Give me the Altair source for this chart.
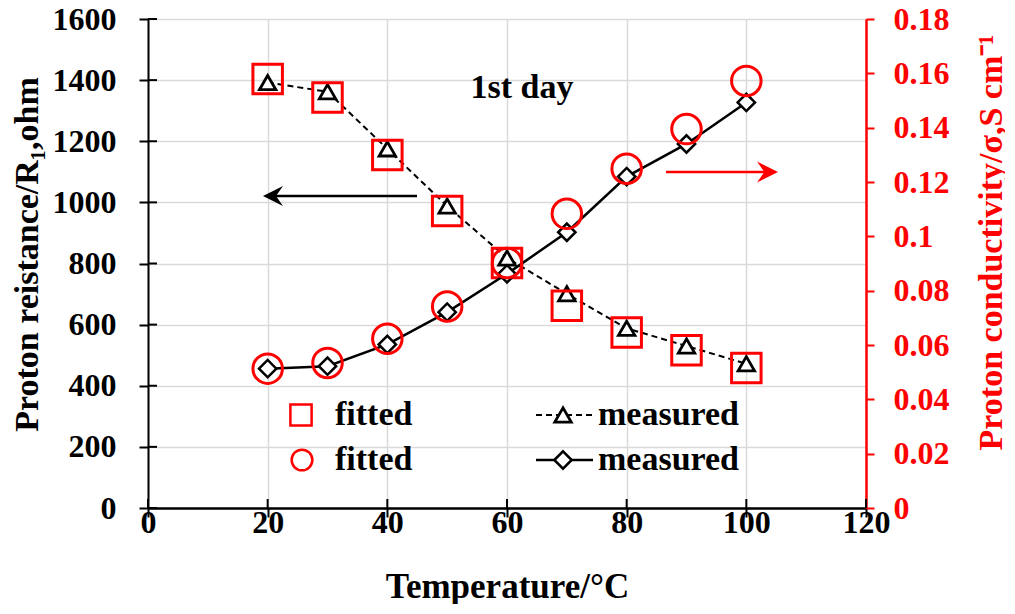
import altair as alt
import pandas as pd

# ---------------- data ----------------
temperature = [20, 30, 40, 50, 60, 70, 80, 90, 100]
resistance_measured = [1392, 1362, 1175, 988, 818, 701, 588, 530, 472]
resistance_fitted = [1404, 1343, 1155, 972, 802, 662, 574, 516, 458]
conductivity_measured = [0.0513, 0.0522, 0.0602, 0.0721, 0.0862, 0.1015, 0.1220, 0.1340, 0.1493]
conductivity_fitted = [0.0513, 0.0534, 0.0623, 0.0742, 0.0902, 0.1083, 0.1249, 0.1395, 0.1572]

x_ticks = [0, 20, 40, 60, 80, 100, 120]
left_ticks = [0, 200, 400, 600, 800, 1000, 1200, 1400, 1600]
right_ticks = [0, 0.02, 0.04, 0.06, 0.08, 0.1, 0.12, 0.14, 0.16, 0.18]

legend_labels = ["fitted", "measured"]
annotation_text = "1st day"

x_title = "Temperature/°C"
left_title = "Proton reistance/R₁,ohm"
right_title = "Proton conductivity/σ,S cm⁻¹"

# ---------------- style ----------------
FONT = "Liberation Serif"
RED = "#ff0000"
BLACK = "#000000"
W, H = 718, 489
TICK_FS = 32
TITLE_FS = 35
TEXT_FS = 34

df_rm = pd.DataFrame({"T": temperature, "R": resistance_measured})
df_rf = pd.DataFrame({"T": temperature, "R": resistance_fitted})
df_sm = pd.DataFrame({"T": temperature, "S": conductivity_measured})
df_sf = pd.DataFrame({"T": temperature, "S": conductivity_fitted})
df_xt = pd.DataFrame({"T": x_ticks})
df_lt = pd.DataFrame({"R": left_ticks})
one = pd.DataFrame({"k": [0]})

x_enc = alt.X(
    "T:Q",
    scale=alt.Scale(domain=[0, 120], nice=False),
    axis=alt.Axis(
        values=x_ticks, title=x_title, grid=True, format="d",
        labelFontSize=TICK_FS, titleFontSize=TITLE_FS, labelBaseline="middle",
        tickSize=9, labelPadding=5, domainWidth=2.5, tickWidth=2,
        domainColor=BLACK, tickColor=BLACK, labelColor=BLACK, titleColor=BLACK,
        labelFlush=False, labelOverlap=False,
        titleX=W / 2, titleY=78, titleBaseline="middle", titleAlign="center",
    ),
)

y_left = alt.Y(
    "R:Q",
    scale=alt.Scale(domain=[0, 1600], nice=False),
    axis=alt.Axis(
        values=left_ticks, title=left_title, grid=True, format="d", orient="left",
        labelFontSize=TICK_FS, titleFontSize=TITLE_FS - 1, labelBaseline="middle",
        tickSize=9, labelPadding=23, domainWidth=2, tickWidth=2,
        domainColor=BLACK, tickColor=BLACK, labelColor=BLACK, titleColor=BLACK,
        labelOverlap=False, labelFlush=False,
        titleAngle=270, titleX=-121, titleY=235,
        titleBaseline="middle", titleAlign="center",
    ),
)

y_right = alt.Y(
    "S:Q",
    scale=alt.Scale(domain=[0, 0.18], nice=False),
    axis=alt.Axis(
        values=right_ticks, title=right_title, grid=False, format="~g", orient="right",
        labelFontSize=TICK_FS, titleFontSize=TITLE_FS - 1, labelBaseline="middle",
        tickSize=8, labelPadding=19, domainWidth=2.5, tickWidth=2,
        domainColor=RED, tickColor=RED, labelColor=RED, titleColor=RED,
        labelOverlap=False, labelFlush=False,
        titleAngle=270, titleX=125, titleY=223,
        titleBaseline="middle", titleAlign="center",
    ),
)

# ---------------- left (resistance) group ----------------
r_line = alt.Chart(df_rm).mark_line(color=BLACK, strokeWidth=2, strokeDash=[6, 4]).encode(x=x_enc, y=y_left)
r_pts = alt.Chart(df_rm).mark_point(
    shape="triangle-up", size=270, fill="white", fillOpacity=1, stroke=BLACK, strokeWidth=2.8, opacity=1
).encode(x=x_enc, y=y_left)
r_fit = alt.Chart(df_rf).mark_point(
    shape="square", size=870, filled=False, stroke=RED, strokeWidth=3, opacity=1
).encode(x=x_enc, y=y_left)

x_in_ticks = alt.Chart(df_xt).mark_rule(color=BLACK, strokeWidth=2).encode(
    x=x_enc, y=alt.value(H), y2=alt.value(H - 9)
)
y_in_ticks = alt.Chart(df_lt).mark_rule(color=BLACK, strokeWidth=2).encode(
    y=y_left, x=alt.value(0), x2=alt.value(9)
)

# annotations
txt_day = alt.Chart(one).mark_text(
    font=FONT, fontWeight="bold", fontSize=TEXT_FS, align="center", baseline="middle", color=BLACK
).encode(x=alt.value(374), y=alt.value(69), text=alt.value(annotation_text))

left_arrow_line = alt.Chart(one).mark_rule(color=BLACK, strokeWidth=2.5).encode(
    x=alt.value(122), x2=alt.value(269), y=alt.value(177)
)
left_arrow_head = alt.Chart(one).mark_point(
    shape="M0,0L2,-1L1.3,0L2,1Z", size=400, filled=True, color=BLACK, opacity=1
).encode(x=alt.value(115), y=alt.value(177))

right_arrow_line = alt.Chart(one).mark_rule(color=RED, strokeWidth=2.5).encode(
    x=alt.value(518), x2=alt.value(622), y=alt.value(153)
)
right_arrow_head = alt.Chart(one).mark_point(
    shape="M0,0L-2,-1L-1.3,0L-2,1Z", size=441, filled=True, color=RED, opacity=1
).encode(x=alt.value(630), y=alt.value(153))

# legend (drawn inside the plot)
row1, row2 = 396, 441
def legend_text(label, x, y):
    return alt.Chart(one).mark_text(
        font=FONT, fontWeight="bold", fontSize=TEXT_FS, align="left", baseline="middle", color=BLACK
    ).encode(x=alt.value(x), y=alt.value(y), text=alt.value(label))

leg_sq = alt.Chart(one).mark_point(shape="square", size=450, filled=False, stroke=RED, strokeWidth=2.5, opacity=1).encode(
    x=alt.value(153), y=alt.value(row1))
leg_ci = alt.Chart(one).mark_point(shape="circle", size=430, filled=False, stroke=RED, strokeWidth=2.5, opacity=1).encode(
    x=alt.value(154), y=alt.value(row2))
leg_l1 = alt.Chart(one).mark_rule(color=BLACK, strokeWidth=2, strokeDash=[6, 4]).encode(
    x=alt.value(388), x2=alt.value(445), y=alt.value(row1))
leg_l2 = alt.Chart(one).mark_rule(color=BLACK, strokeWidth=2.5).encode(
    x=alt.value(388), x2=alt.value(445), y=alt.value(row2))
leg_tri = alt.Chart(one).mark_point(shape="triangle-up", size=270, fill="white", fillOpacity=1, stroke=BLACK, strokeWidth=2.8, opacity=1).encode(
    x=alt.value(415), y=alt.value(row1))
leg_dia = alt.Chart(one).mark_point(shape="diamond", size=300, fill="white", fillOpacity=1, stroke=BLACK, strokeWidth=2.5, opacity=1).encode(
    x=alt.value(415), y=alt.value(row2))

left = alt.layer(
    x_in_ticks, y_in_ticks, r_line, r_pts, r_fit,
    txt_day, left_arrow_line, left_arrow_head, right_arrow_line, right_arrow_head,
    leg_sq, leg_ci, leg_l1, leg_l2, leg_tri, leg_dia,
    legend_text(legend_labels[0], 187, row1), legend_text(legend_labels[0], 187, row2),
    legend_text(legend_labels[1], 450, row1), legend_text(legend_labels[1], 450, row2),
)

# ---------------- right (conductivity) group ----------------
s_line = alt.Chart(df_sm).mark_line(color=BLACK, strokeWidth=2.5).encode(x=x_enc, y=y_right)
s_pts = alt.Chart(df_sm).mark_point(
    shape="diamond", size=300, fill="white", fillOpacity=1, stroke=BLACK, strokeWidth=2.5, opacity=1
).encode(x=x_enc, y=y_right)
s_fit = alt.Chart(df_sf).mark_point(
    shape="circle", size=870, filled=False, stroke=RED, strokeWidth=3, opacity=1
).encode(x=x_enc, y=y_right)

right = alt.layer(s_line, s_pts, s_fit)

chart = (
    alt.layer(left, right)
    .resolve_scale(y="independent")
    .properties(
        width=W, height=H,
        padding={"left": 140, "top": 11, "right": 139, "bottom": 96},
        autosize=alt.AutoSizeParams(type="none"),
        background="white",
    )
    .configure_view(strokeWidth=0)
    .configure_axis(
        labelFont=FONT, titleFont=FONT, labelFontWeight="bold", titleFontWeight="bold",
        gridColor="#d9d9d9", gridWidth=1.5,
    )
)

chart.save("out.html", embed_options={"renderer": "svg", "actions": False})
